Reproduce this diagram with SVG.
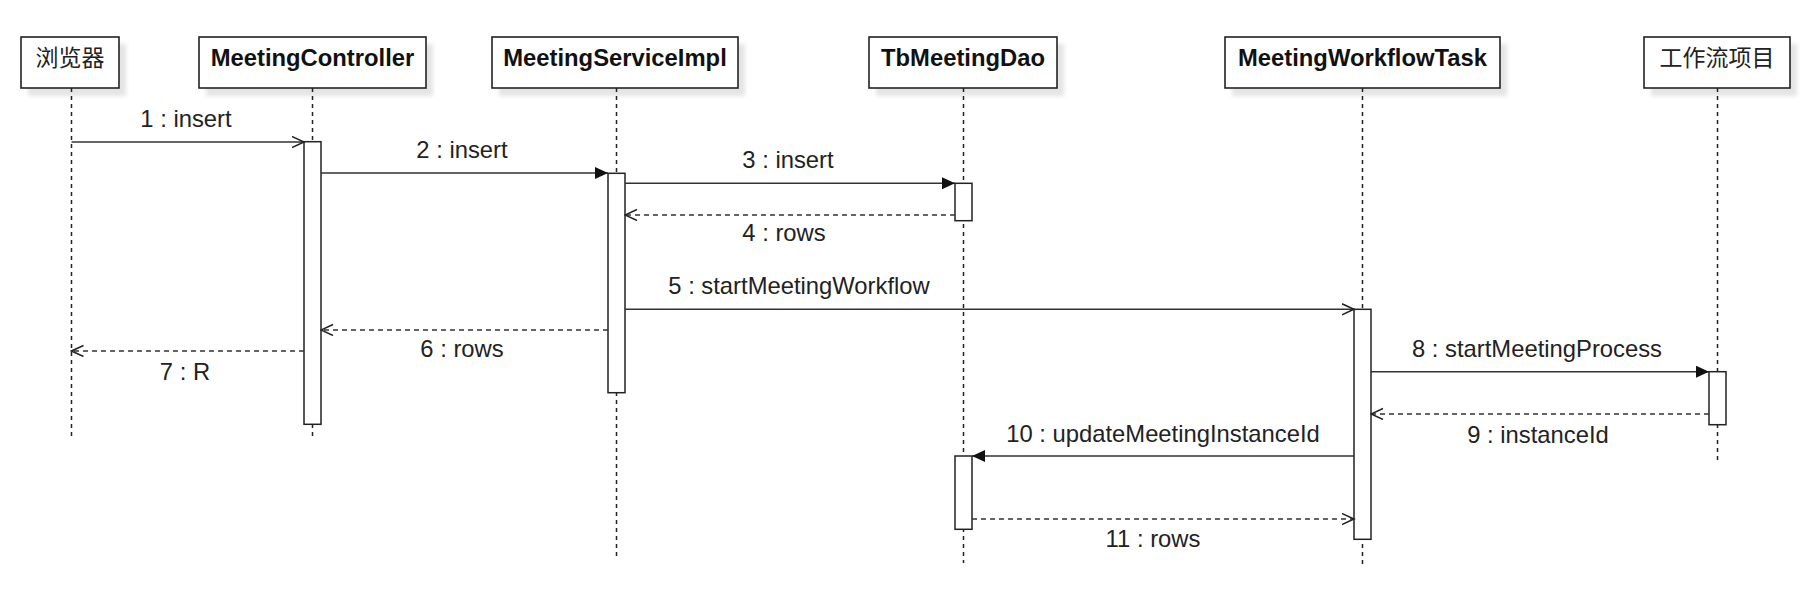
<svg xmlns="http://www.w3.org/2000/svg" width="1813" height="589" viewBox="0 0 1813 589">
<style>
.box{fill:#fff;stroke:#222;stroke-width:1.6}
.shadow{fill:#e4e4e4;filter:url(#blur)}
.title{font-family:"Liberation Sans",Arial,sans-serif;font-size:23.8px;font-weight:bold;fill:#111;text-anchor:middle}
.cjk{font-family:"Noto Sans CJK SC","Liberation Sans",sans-serif;font-size:23px;font-weight:normal;fill:#222;text-anchor:middle}
.life{stroke:#222;stroke-width:1.5;stroke-dasharray:4 4;fill:none}
.act{fill:#fff;stroke:#222;stroke-width:1.5}
.msg{stroke:#333;stroke-width:1.5;fill:none}
.ret{stroke:#333;stroke-width:1.5;fill:none;stroke-dasharray:5 4}
.lbl{font-family:"Liberation Sans",Arial,sans-serif;font-size:23.8px;fill:#222;text-anchor:middle}
</style>
<defs>
<filter id="blur" x="-10%" y="-10%" width="130%" height="150%"><feGaussianBlur stdDeviation="2"/></filter>
<marker id="filled" markerUnits="userSpaceOnUse" markerWidth="15" markerHeight="14" refX="13" refY="6" orient="auto"><path d="M0,0 L13,6 L0,12 z" fill="#111"/></marker>
<marker id="open" markerUnits="userSpaceOnUse" markerWidth="14" markerHeight="13" refX="12.5" refY="6" orient="auto"><path d="M0.5,0.5 L12.5,6 L0.5,11.5" fill="none" stroke="#222" stroke-width="1.5"/></marker>
</defs>
<rect width="1813" height="589" fill="#fff"/>

<g id="browser">
<rect class="shadow" x="28" y="44" width="98" height="52"/>
<rect class="box" x="21" y="37" width="98" height="51"/>
<text class="cjk" x="70" y="66">浏览器</text>
<line class="life" x1="71.5" y1="88" x2="71.5" y2="438"/>
</g>

<g id="meetingController">
<rect class="shadow" x="206" y="44" width="227" height="52"/>
<rect class="box" x="199" y="37" width="227" height="51"/>
<text class="title" x="312.5" y="66">MeetingController</text>
<line class="life" x1="312.5" y1="88" x2="312.5" y2="438"/>
<rect class="act" x="304" y="141.7" width="17" height="282.6"/>
</g>

<g id="meetingServiceImpl">
<rect class="shadow" x="499" y="44" width="246" height="52"/>
<rect class="box" x="492" y="37" width="246" height="51"/>
<text class="title" x="615" y="66">MeetingServiceImpl</text>
<line class="life" x1="616.5" y1="88" x2="616.5" y2="557"/>
<rect class="act" x="608" y="173.3" width="17" height="219.4"/>
</g>

<g id="tbMeetingDao">
<rect class="shadow" x="876" y="44" width="188" height="52"/>
<rect class="box" x="869" y="37" width="188" height="51"/>
<text class="title" x="963" y="66">TbMeetingDao</text>
<line class="life" x1="963.5" y1="88" x2="963.5" y2="563"/>
<rect class="act" x="955" y="183.3" width="17" height="37.4"/>
<rect class="act" x="955" y="456" width="17" height="73.3"/>
</g>

<g id="meetingWorkflowTask">
<rect class="shadow" x="1232" y="44" width="275" height="52"/>
<rect class="box" x="1225" y="37" width="275" height="51"/>
<text class="title" x="1362.5" y="66">MeetingWorkflowTask</text>
<line class="life" x1="1362.5" y1="88" x2="1362.5" y2="565"/>
<rect class="act" x="1354" y="309.3" width="17" height="230"/>
</g>

<g id="workflowProject">
<rect class="shadow" x="1651" y="44" width="146" height="52"/>
<rect class="box" x="1644" y="37" width="146" height="51"/>
<text class="cjk" x="1717" y="66">工作流项目</text>
<line class="life" x1="1717.5" y1="88" x2="1717.5" y2="462"/>
<rect class="act" x="1709" y="371.7" width="17" height="53"/>
</g>

<g id="connectors">
<line class="msg" x1="71.5" y1="142" x2="304" y2="142" marker-end="url(#open)"/>
<text class="lbl" x="186" y="127">1 : insert</text>
<line class="msg" x1="321" y1="173" x2="608" y2="173" marker-end="url(#filled)"/>
<text class="lbl" x="462" y="158">2 : insert</text>
<line class="msg" x1="625" y1="183.3" x2="955" y2="183.3" marker-end="url(#filled)"/>
<text class="lbl" x="788" y="168">3 : insert</text>
<line class="ret" x1="955" y1="215" x2="625" y2="215" marker-end="url(#open)"/>
<text class="lbl" x="784" y="241">4 : rows</text>
<line class="msg" x1="625" y1="309.3" x2="1354" y2="309.3" marker-end="url(#open)"/>
<text class="lbl" x="799" y="294">5 : startMeetingWorkflow</text>
<line class="ret" x1="608" y1="330" x2="321" y2="330" marker-end="url(#open)"/>
<text class="lbl" x="462" y="357">6 : rows</text>
<line class="ret" x1="304" y1="351" x2="71.5" y2="351" marker-end="url(#open)"/>
<text class="lbl" x="185" y="380">7 : R</text>
<line class="msg" x1="1371" y1="371.7" x2="1709" y2="371.7" marker-end="url(#filled)"/>
<text class="lbl" x="1537" y="357">8 : startMeetingProcess</text>
<line class="ret" x1="1709" y1="414" x2="1371" y2="414" marker-end="url(#open)"/>
<text class="lbl" x="1538" y="443">9 : instanceId</text>
<line class="msg" x1="1354" y1="456" x2="972" y2="456" marker-end="url(#filled)"/>
<text class="lbl" x="1163" y="442">10 : updateMeetingInstanceId</text>
<line class="ret" x1="972" y1="519" x2="1354" y2="519" marker-end="url(#open)"/>
<text class="lbl" x="1153" y="547">11 : rows</text>
</g>
</svg>
